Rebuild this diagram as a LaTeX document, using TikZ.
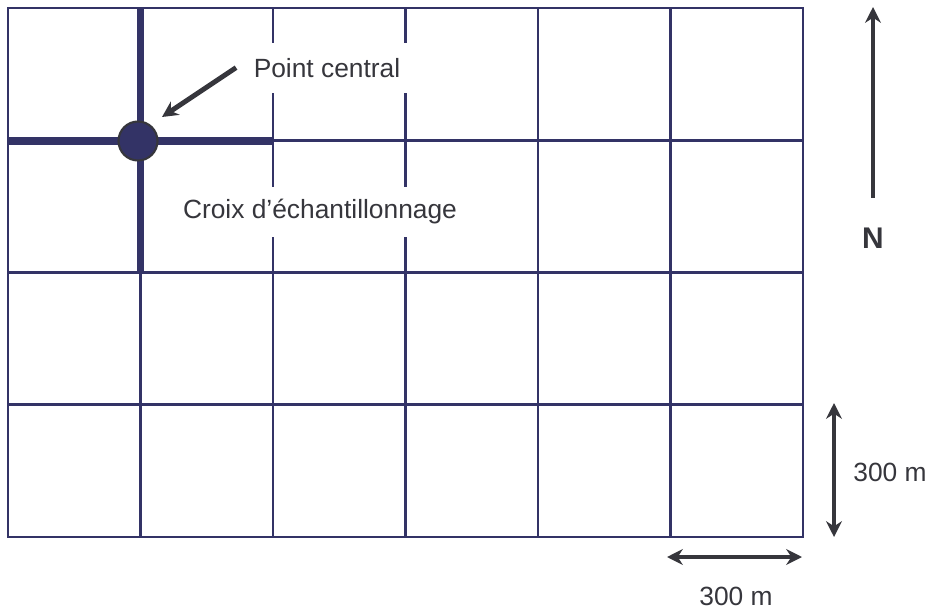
\documentclass[tikz,border=0pt]{standalone}
\usepackage{fontspec}
\setmainfont{Liberation Sans}
\usetikzlibrary{arrows.meta, positioning}
\definecolor{gridblue}{HTML}{333366}
\definecolor{inkgray}{HTML}{36363C}

\begin{document}
\begin{tikzpicture}[x=0.02cm, y=-0.02cm, line cap=rect, line join=miter,
    label/.style={text=inkgray, font=\fontsize{15}{18}\selectfont, inner sep=0pt},
    labelbox/.style={label, fill=white, minimum height=1cm, inner xsep=0.2cm},
    pointer/.style={-{Stealth[length=9pt, width=9pt]}, line width=2.8pt, draw=inkgray},
    span/.style={{Stealth[length=9pt, width=9pt]}-{Stealth[length=9pt, width=9pt]}, line width=2.8pt, draw=inkgray}]
    \useasboundingbox (0,0) rectangle (930,615);

    % grid of 6 x 4 cells
    \foreach \i in {1,...,5}
        \draw[gridblue, line width=1.6pt] (8+132.5*\i,8) -- (8+132.5*\i,537);
    \foreach \j in {1,2,3}
        \draw[gridblue, line width=1.6pt] (8,8+132.25*\j) -- (803,8+132.25*\j);
    \draw[gridblue, line width=1.6pt] (8,8) rectangle (803,537);

    % sampling cross
    \draw[gridblue, line width=4.5pt, line cap=butt] (140.5,8) -- (140.5,272);
    \draw[gridblue, line width=4.5pt, line cap=butt] (8,141) -- (273,141);
    \node[circle, fill=gridblue, draw=inkgray, line width=1.2pt, inner sep=0pt, minimum size=0.78cm] (centre) at (138,141) {};

    % labels
    \node[labelbox] (pointlbl) at (327,68) {Point central};
    \node[labelbox] (croixlbl) at (320,212) {Croix d’échantillonnage};
    \coordinate (ptail) at (234,69);
    \draw[pointer] (ptail) -- (162,117) coordinate (phead);

    % north arrow
    \coordinate (ntail) at (873,196);
    \coordinate (nhead) at (873,7);
    \draw[pointer] (ntail) -- (nhead);
    \node[text=inkgray, font=\bfseries\fontsize{17}{20}\selectfont, inner sep=0pt] (north) at (873,238) {N};

    % scale
    \coordinate (vtop) at (834,403);
    \coordinate (vbot) at (834,537);
    \draw[span] (vtop) -- (vbot);
    \node[label] (vlbl) at (890,472) {300 m};
    \coordinate (hleft) at (667,557);
    \coordinate (hright) at (802,557);
    \draw[span] (hleft) -- (hright);
    \node[label] (hlbl) at (736,596) {300 m};
\end{tikzpicture}
\end{document}
